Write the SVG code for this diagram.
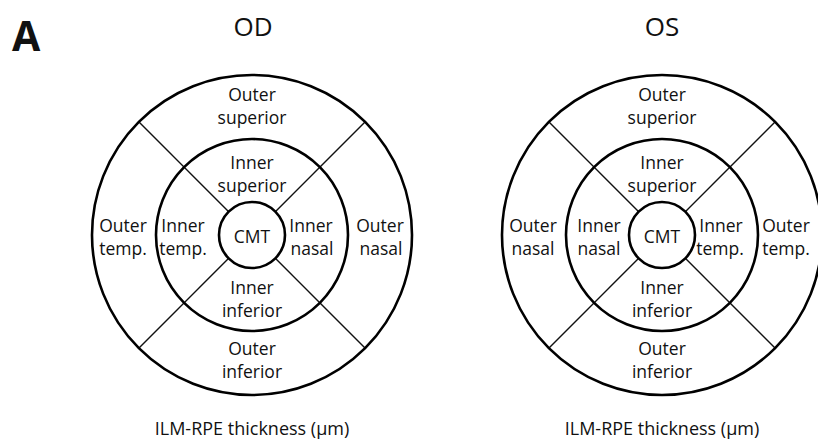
<svg xmlns="http://www.w3.org/2000/svg" width="818" height="439" viewBox="0 0 818 439">
<style>
.ring{fill:none;stroke:#000;stroke-width:2.6}
.div{stroke:#111;stroke-width:1.4}
.t{font-family:"Open Sans","Liberation Sans",sans-serif;font-size:17.5px;fill:#111;text-anchor:middle}
.h{font-family:"Open Sans","Liberation Sans",sans-serif;font-size:26px;fill:#111;text-anchor:middle}
.cap{font-family:"Open Sans","Liberation Sans",sans-serif;font-size:18px;fill:#111;text-anchor:middle}
</style>
<rect width="818" height="439" fill="#fff"/>
<text x="12" y="51" font-family="Open Sans, Liberation Sans, sans-serif" font-weight="bold" font-size="41" fill="#111">A</text>
<g id="od">
<text class="h" x="253" y="36">OD</text>
<g id="od-lines" class="connectors">
<line class="div" x1="228.7" y1="211.7" x2="139" y2="122"/>
<line class="div" x1="275.3" y1="211.7" x2="365" y2="122"/>
<line class="div" x1="228.7" y1="258.3" x2="139" y2="348"/>
<line class="div" x1="275.3" y1="258.3" x2="365" y2="348"/>
</g>
<circle class="ring" cx="252" cy="235" r="160"/>
<circle class="ring" cx="252" cy="235" r="96"/>
<circle class="ring" cx="252" cy="235" r="33" fill="#fff"/>
<g id="od-cmt"><text class="t" x="252" y="243">CMT</text></g>
<g id="od-os"><text class="t" x="252" y="101">Outer</text><text class="t" x="252" y="124">superior</text></g>
<g id="od-is"><text class="t" x="252" y="169">Inner</text><text class="t" x="252" y="192">superior</text></g>
<g id="od-ii"><text class="t" x="252" y="294">Inner</text><text class="t" x="252" y="317">inferior</text></g>
<g id="od-oi"><text class="t" x="252" y="355">Outer</text><text class="t" x="252" y="378">inferior</text></g>
<g id="od-ot"><text class="t" x="123" y="232">Outer</text><text class="t" x="123" y="255">temp.</text></g>
<g id="od-it"><text class="t" x="183" y="232">Inner</text><text class="t" x="183" y="255">temp.</text></g>
<g id="od-in"><text class="t" x="311" y="232">Inner</text><text class="t" x="312" y="255">nasal</text></g>
<g id="od-on"><text class="t" x="380" y="232">Outer</text><text class="t" x="381" y="255">nasal</text></g>
<text class="cap" x="252" y="435">ILM-RPE thickness (µm)</text>
</g>
<g id="os">
<text class="h" x="662" y="36">OS</text>
<g id="os-lines" class="connectors">
<line class="div" x1="638.7" y1="211.7" x2="549" y2="122"/>
<line class="div" x1="685.3" y1="211.7" x2="775" y2="122"/>
<line class="div" x1="638.7" y1="258.3" x2="549" y2="348"/>
<line class="div" x1="685.3" y1="258.3" x2="775" y2="348"/>
</g>
<circle class="ring" cx="662" cy="235" r="160"/>
<circle class="ring" cx="662" cy="235" r="96"/>
<circle class="ring" cx="662" cy="235" r="33" fill="#fff"/>
<g id="os-cmt"><text class="t" x="662" y="243">CMT</text></g>
<g id="os-os"><text class="t" x="662" y="101">Outer</text><text class="t" x="662" y="124">superior</text></g>
<g id="os-is"><text class="t" x="662" y="169">Inner</text><text class="t" x="662" y="192">superior</text></g>
<g id="os-ii"><text class="t" x="662" y="294">Inner</text><text class="t" x="662" y="317">inferior</text></g>
<g id="os-oi"><text class="t" x="662" y="355">Outer</text><text class="t" x="662" y="378">inferior</text></g>
<g id="os-on"><text class="t" x="533" y="232">Outer</text><text class="t" x="533" y="255">nasal</text></g>
<g id="os-in"><text class="t" x="599" y="232">Inner</text><text class="t" x="599" y="255">nasal</text></g>
<g id="os-it"><text class="t" x="721" y="232">Inner</text><text class="t" x="720" y="255">temp.</text></g>
<g id="os-ot"><text class="t" x="786" y="232">Outer</text><text class="t" x="786" y="255">temp.</text></g>
<text class="cap" x="662" y="435">ILM-RPE thickness (µm)</text>
</g>
</svg>
